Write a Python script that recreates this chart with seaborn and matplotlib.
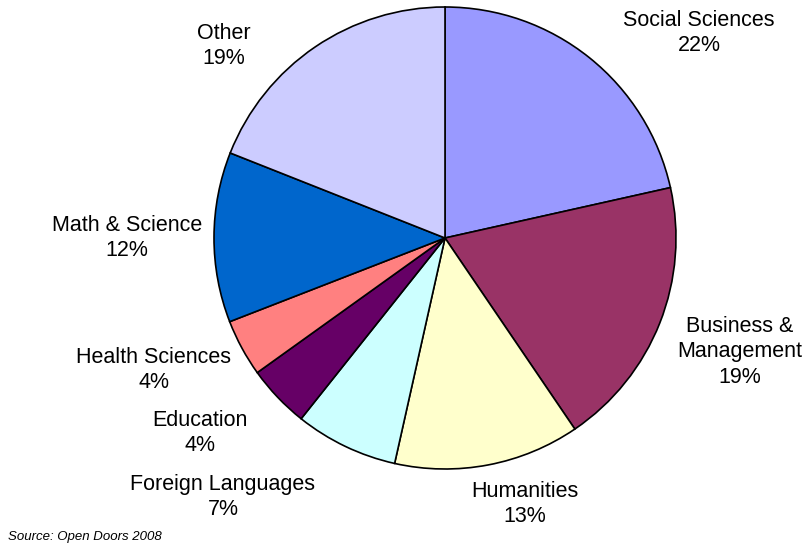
import matplotlib
matplotlib.use("Agg")
import matplotlib.pyplot as plt
import seaborn as sns

categories = ["Social Sciences", "Business &\nManagement", "Humanities", "Foreign Languages",
              "Education", "Health Sciences", "Math & Science", "Other"]
values = [21.5, 19.0, 13.0, 7.2, 4.4, 4.0, 11.9, 19.0]
pct_labels = ["22%", "19%", "13%", "7%", "4%", "4%", "12%", "19%"]
colors = ["#9999FF", "#993366", "#FFFFCC", "#CCFFFF", "#660066", "#FF8080", "#0066CC", "#CCCCFF"]

# label centre positions in pixels (x, y from top)
label_px = [(699, 33), (740, 352), (525, 504), (223, 497), (200, 433), (154, 370), (127, 238), (224, 46)]

sns.set_theme(style="white")
plt.rcParams['font.family'] = ['Liberation Sans', 'DejaVu Sans']

W, H = 806, 547
fig = plt.figure(figsize=(W / 100, H / 100), dpi=100)
cx, cy, r = 445, 238, 231
ax = fig.add_axes([(cx - r) / W, (H - (cy + r)) / H, 2 * r / W, 2 * r / H])
ax.pie(values, colors=colors, startangle=90, counterclock=False, radius=1,
       wedgeprops=dict(edgecolor="black", linewidth=1.2))
ax.set_xlim(-1, 1)
ax.set_ylim(-1, 1)
ax.set_aspect("equal")
ax.axis("off")

for cat, p, (px, py) in zip(categories, pct_labels, label_px):
    fig.text(px / W, 1 - py / H, f"{cat}\n{p}", ha="center", va="center",
             fontsize=15.5, color="black", linespacing=1.3)

fig.text(8 / W, 1 - 537 / H, "Source: Open Doors 2008", ha="left", va="center",
         fontsize=9.5, style="italic", color="black")

fig.savefig("out.png", dpi=100)
